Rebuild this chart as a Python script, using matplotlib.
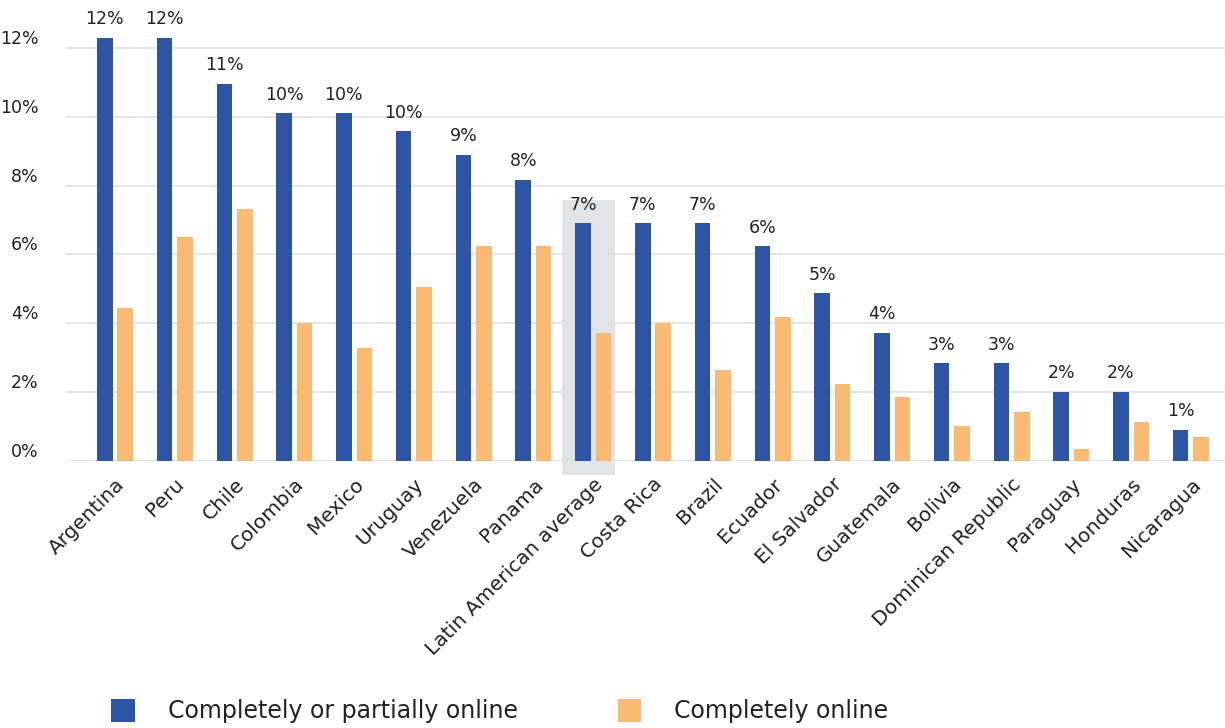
import matplotlib
matplotlib.use("Agg")
import matplotlib.pyplot as plt
from matplotlib.patches import Rectangle, Patch
import numpy as np

plt.rcParams['font.family'] = ['DejaVu Sans']

countries = ["Argentina", "Peru", "Chile", "Colombia", "Mexico", "Uruguay", "Venezuela",
             "Panama", "Latin American average", "Costa Rica", "Brazil", "Ecuador",
             "El Salvador", "Guatemala", "Bolivia", "Dominican Republic", "Paraguay",
             "Honduras", "Nicaragua"]
partial_online = [12.31, 12.31, 10.96, 10.11, 10.11, 9.58, 8.89, 8.17, 6.91, 6.91, 6.91,
                  6.24, 4.87, 3.72, 2.83, 2.83, 2.00, 2.00, 0.90]
complete_online = [4.45, 6.51, 7.32, 4.02, 3.28, 5.06, 6.24, 6.24, 3.72, 4.01, 2.63,
                   4.17, 2.23, 1.84, 1.01, 1.42, 0.34, 1.12, 0.69]
bar_labels = ["12%", "12%", "11%", "10%", "10%", "10%", "9%", "8%", "7%", "7%", "7%",
              "6%", "5%", "4%", "3%", "3%", "2%", "2%", "1%"]
y_ticks = [0, 2, 4, 6, 8, 10, 12]
y_tick_labels = ["0%", "2%", "4%", "6%", "8%", "10%", "12%"]
series_names = ["Completely or partially online", "Completely online"]
highlight = "Latin American average"

BLUE = "#2E55A4"
ORANGE = "#FBBA74"

W, H = 1225, 728
fig = plt.figure(figsize=(W / 100, H / 100), dpi=100)
px_per_unit = (460.7 - 48.3) / 12.0
ymax = 13.3
ax_left, ax_right = 65, 1225
ax_bottom = 460.7
ax_top = ax_bottom - ymax * px_per_unit
ax = fig.add_axes([ax_left / W, 1 - ax_bottom / H, (ax_right - ax_left) / W, (ax_bottom - ax_top) / H])

x = np.arange(len(countries))
bw = 0.26
off = 0.171
ax.bar(x - off, partial_online, width=bw, color=BLUE, zorder=2, label=series_names[0])
ax.bar(x + off, complete_online, width=bw, color=ORANGE, zorder=2, label=series_names[1])

for xi, v, lab in zip(x, partial_online, bar_labels):
    ax.annotate(lab, (xi - off, v), xytext=(0, 7), textcoords="offset points",
                ha="center", va="bottom", fontsize=12.5, color="#222222", clip_on=False)

hi = countries.index(highlight)
rect = Rectangle((hi - 0.52, -0.41), 0.89, 8.01, facecolor="#e2e3e5", edgecolor="none",
                 zorder=0.2, clip_on=False)
ax.add_patch(rect)

ax.set_xlim(-0.837, 18.57)
ax.set_ylim(0, ymax)
ax.set_yticks(y_ticks)
ax.set_yticklabels(y_tick_labels, fontsize=12.5, color="#222222")
for t in ax.get_yticklabels():
    t.set_verticalalignment("bottom")
ax.tick_params(axis="y", length=0, pad=19)
ax.set_xticks(x)
ax.set_xticklabels(countries, rotation=45, ha="right", rotation_mode="anchor",
                   fontsize=14.5, color="#222222")
ax.tick_params(axis="x", length=0, pad=10)

ax.set_axisbelow(True)
ax.yaxis.grid(True, color="#e0e2e6", linewidth=1.2)
for s in ax.spines.values():
    s.set_visible(False)

handles = [Patch(facecolor=BLUE), Patch(facecolor=ORANGE)]
leg = fig.legend(handles, series_names, loc="center left",
                 bbox_to_anchor=(90 / W, 1 - 711 / H), ncol=2, frameon=False,
                 fontsize=17, handlelength=1.0, handleheight=1.15,
                 handletextpad=1.4, columnspacing=4.22)
for t in leg.get_texts():
    t.set_color("#222222")

fig.savefig("out.png", dpi=100)
